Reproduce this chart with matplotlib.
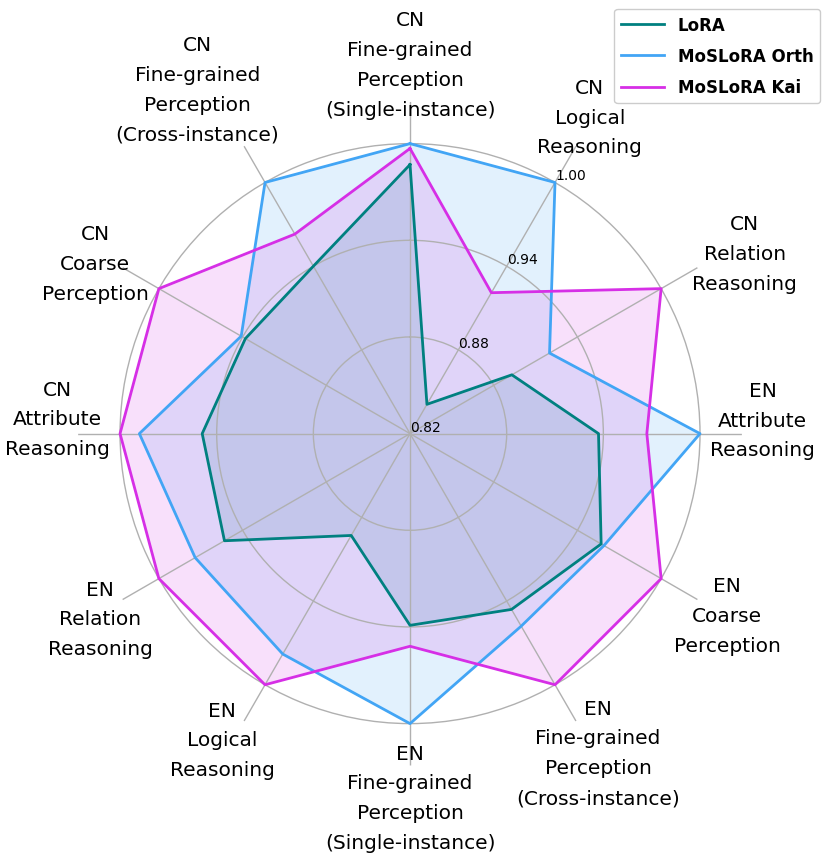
import numpy as np
import matplotlib
matplotlib.use("Agg")
import matplotlib.pyplot as plt

# Data
categories = [
    "CN\nFine-grained\nPerception\n(Single-instance)",
    "CN\nLogical\nReasoning",
    "CN\nRelation\nReasoning",
    "EN\nAttribute\nReasoning",
    "EN\nCoarse\nPerception",
    "EN\nFine-grained\nPerception\n(Cross-instance)",
    "EN\nFine-grained\nPerception\n(Single-instance)",
    "EN\nLogical\nReasoning",
    "EN\nRelation\nReasoning",
    "CN\nAttribute\nReasoning",
    "CN\nCoarse\nPerception",
    "CN\nFine-grained\nPerception\n(Cross-instance)",
]
lora = [0.987, 0.841, 0.893, 0.937, 0.957, 0.946, 0.939, 0.893, 0.953, 0.949, 0.938, 0.940]
moslora_orth = [1.000, 1.000, 0.920, 1.000, 0.959, 0.958, 1.000, 0.978, 0.974, 0.988, 0.941, 1.000]
moslora_kai = [0.997, 0.921, 1.000, 0.967, 1.000, 1.000, 0.952, 1.000, 1.000, 1.000, 1.000, 0.963]
r_ticks = [0.82, 0.88, 0.94, 1.00]

series = [("LoRA", lora, "#008080"),
          ("MoSLoRA Orth", moslora_orth, "#42a5f5"),
          ("MoSLoRA Kai", moslora_kai, "#d62fe6")]

# where each category label sits (clockwise degrees from top, radial units)
label_theta = [0, 29.6, 61.7, 87.8, 119.8, 149.5, 180, 211.5, 239.1, 272.4, 298.4, 328.3]
label_r = [1.049, 1.046, 1.056, 1.039, 1.047, 1.050, 1.046, 1.043, 1.044, 1.039, 1.042, 1.071]

n = len(categories)
angles = np.linspace(0, 2 * np.pi, n, endpoint=False)

fig = plt.figure(figsize=(8.3, 8.62), dpi=100)
ax = fig.add_axes([0.094, 0.1108, 0.8, 0.770], projection="polar")
ax.set_theta_offset(np.pi / 2)
ax.set_theta_direction(-1)

for name, vals, col in series:
    v = vals + vals[:1]
    a = np.append(angles, angles[0])
    ax.plot(a, v, color=col, linewidth=2, label=name)
    ax.fill(a, v, color=col, alpha=0.15)

ax.set_ylim(0.82, 1.026)
ax.set_yticks(r_ticks)
ax.set_yticklabels(["%.2f" % t for t in r_ticks], fontsize=10)
ax.set_rlabel_position(30)
ax.set_xticks(angles)
ax.set_xticklabels([])
ax.grid(color="#b0b0b0", linewidth=1)
ax.spines["polar"].set_visible(False)

for th, lab, rr in zip(label_theta, categories, label_r):
    ax.text(np.deg2rad(th), rr, lab, ha="center", va="center", fontsize=14.5,
            linespacing=1.72, clip_on=False)

fig.legend(loc="upper right", bbox_to_anchor=(0.998, 0.998),
           prop={"weight": "bold", "size": 12}, handlelength=2.6,
           labelspacing=0.8, fancybox=True, framealpha=1)

plt.savefig("out.png", dpi=100)
